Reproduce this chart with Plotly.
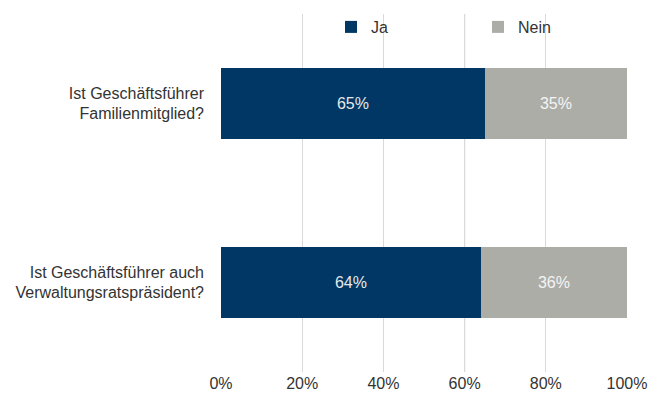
import plotly.graph_objects as go

categories = ["Ist Geschäftsführer<br>Familienmitglied?", "Ist Geschäftsführer auch<br>Verwaltungsratspräsident?"]
ja = [65, 64]
nein = [35, 36]
tick_vals = [0, 20, 40, 60, 80, 100]
tick_text = ["0%", "20%", "40%", "60%", "80%", "100%"]

font_family = "Liberation Sans, Arial, sans-serif"
text_color = "#333333"
fig = go.Figure()
fig.add_trace(go.Bar(
    y=categories, x=ja, name="Ja", orientation="h",
    marker=dict(color="#003764", line=dict(width=0)),
    text=[f"{v}%" for v in ja], textposition="inside", insidetextanchor="middle",
    textfont=dict(color="#e8e8e8", size=16, family=font_family),
))
fig.add_trace(go.Bar(
    y=categories, x=nein, name="Nein", orientation="h",
    marker=dict(color="#adada8", line=dict(width=0)),
    text=[f"{v}%" for v in nein], textposition="inside", insidetextanchor="middle",
    textfont=dict(color="#f4f4f4", size=16, family=font_family),
))
fig.add_vline(x=60, line=dict(color="#a0a0a0", width=1), layer="below")
fig.update_layout(
    barmode="stack", bargap=0.6,
    width=649, height=400,
    margin=dict(l=221, r=22, t=14, b=28, autoexpand=False),
    paper_bgcolor="white", plot_bgcolor="white",
    font=dict(family=font_family, size=16, color=text_color),
    showlegend=True,
    legend=dict(orientation="h", xref="container", yref="container",
                x=0.7365, xanchor="center", y=0.9325, yanchor="middle",
                font=dict(size=16, color=text_color), entrywidth=102, traceorder="normal",
                bgcolor="rgba(0,0,0,0)", itemwidth=30),
    uniformtext=dict(mode="show", minsize=10),
)
fig.update_xaxes(range=[0, 100], tickvals=tick_vals, ticktext=tick_text,
                 showgrid=True, gridcolor="#d9d9d9", gridwidth=1, zeroline=False,
                 showline=False, ticks="", tickfont=dict(size=16, color=text_color),
                 automargin=False)
fig.update_yaxes(categoryorder="array", categoryarray=categories[::-1],
                 showgrid=False, ticks="", ticklabelstandoff=16,
                 tickfont=dict(size=16, color=text_color), automargin=False)
fig.write_html("out.html", config={"displayModeBar": False},
               post_script="document.body.style.margin='0';")
